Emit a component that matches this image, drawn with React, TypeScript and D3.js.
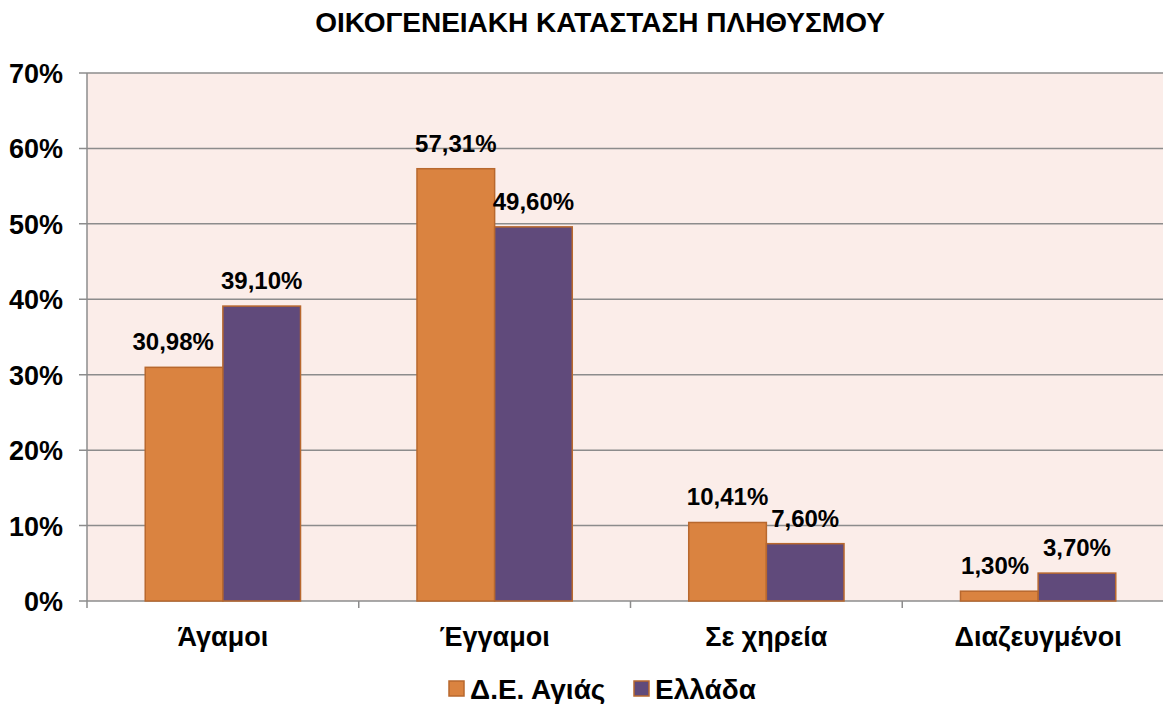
import { scaleBand, scaleLinear } from "d3";

const categories = ["Άγαμοι", "Έγγαμοι", "Σε χηρεία", "Διαζευγμένοι"];
const seriesNames = ["Δ.Ε. Αγιάς", "Ελλάδα"];
const agiaValues = [30.98, 57.31, 10.41, 1.3];
const elladaValues = [39.1, 49.6, 7.6, 3.7];
const yTicks = [0, 10, 20, 30, 40, 50, 60, 70];

const colors = ["#DA8340", "#604A7B"];
const strokeColor = "#B8682E";

const fmt = (v: number) => v.toFixed(2).replace(".", ",") + "%";

export default function App() {
  const width = 1163;
  const height = 704;
  const left = 87;
  const right = 1174;
  const top = 73;
  const bottom = 601;

  const x0 = scaleBand().domain(categories).range([left, right]).paddingInner(0).paddingOuter(0);
  const x1 = scaleBand().domain(seriesNames).range([0, x0.bandwidth()]).paddingInner(0).paddingOuter(0.75);
  const y = scaleLinear().domain([0, 70]).range([bottom, top]);

  const rows = [agiaValues, elladaValues];
  const font = "'Liberation Sans', Arial, sans-serif";

  return (
    <svg width={width} height={height} style={{ position: "absolute", left: 0, top: 0 }} fontFamily={font}>
      <rect width={width} height={height} fill="#fff" />
      <text x={600} y={32} textAnchor="middle" fontSize={28} fontWeight="bold">
        ΟΙΚΟΓΕΝΕΙΑΚΗ ΚΑΤΑΣΤΑΣΗ ΠΛΗΘΥΣΜΟΥ
      </text>
      <rect x={left} y={top} width={right - left} height={bottom - top} fill="#FBEDE9" />
      {yTicks.map((t) => (
        <g key={t}>
          <line x1={left - 8} x2={right} y1={y(t)} y2={y(t)} stroke="#8C8C8C" strokeWidth={1.5} />
          <text x={63} y={y(t) + 10} textAnchor="end" fontSize={27} fontWeight="bold">
            {t}%
          </text>
        </g>
      ))}
      <line x1={left} x2={left} y1={top} y2={bottom + 7} stroke="#8C8C8C" strokeWidth={1.5} />
      {categories.map((c, i) => (
        <g key={c}>
          {i > 0 && (
            <line x1={x0(c)!} x2={x0(c)!} y1={bottom} y2={bottom + 7} stroke="#8C8C8C" strokeWidth={1.5} />
          )}
          <text x={x0(c)! + x0.bandwidth() / 2} y={646} textAnchor="middle" fontSize={27} fontWeight="bold">
            {c}
          </text>
        </g>
      ))}
      {categories.map((c, i) =>
        seriesNames.map((s, j) => {
          const v = rows[j][i];
          const bx = x0(c)! + x1(s)!;
          const bw = x1.bandwidth();
          const label = fmt(v);
          const halfW = label.length * 6.8;
          // push a label left when the neighbouring taller bar would cover it
          const next = j + 1 < seriesNames.length ? rows[j + 1][i] : -1;
          const nextX = bx + bw;
          const overlaps = next > v && y(next) < y(v) - 17 && bx + bw / 2 + halfW > nextX - 9;
          return (
            <g key={c + s}>
              <rect
                x={bx}
                y={y(v)}
                width={bw}
                height={bottom - y(v)}
                fill={colors[j]}
                stroke={strokeColor}
                strokeWidth={1.5}
              />
              <text
                x={overlaps ? nextX - 9 : bx + bw / 2}
                y={y(v) - 17}
                textAnchor={overlaps ? "end" : "middle"}
                fontSize={24}
                fontWeight="bold"
              >
                {label}
              </text>
            </g>
          );
        })
      )}
      {seriesNames.map((s, j) => {
        const lx = j === 0 ? 449 : 634;
        return (
          <g key={s}>
            <rect x={lx} y={681} width={15} height={15} fill={colors[j]} stroke={strokeColor} strokeWidth={1.5} />
            <text x={lx + 21} y={699} fontSize={28} fontWeight="bold">
              {s}
            </text>
          </g>
        );
      })}
    </svg>
  );
}
